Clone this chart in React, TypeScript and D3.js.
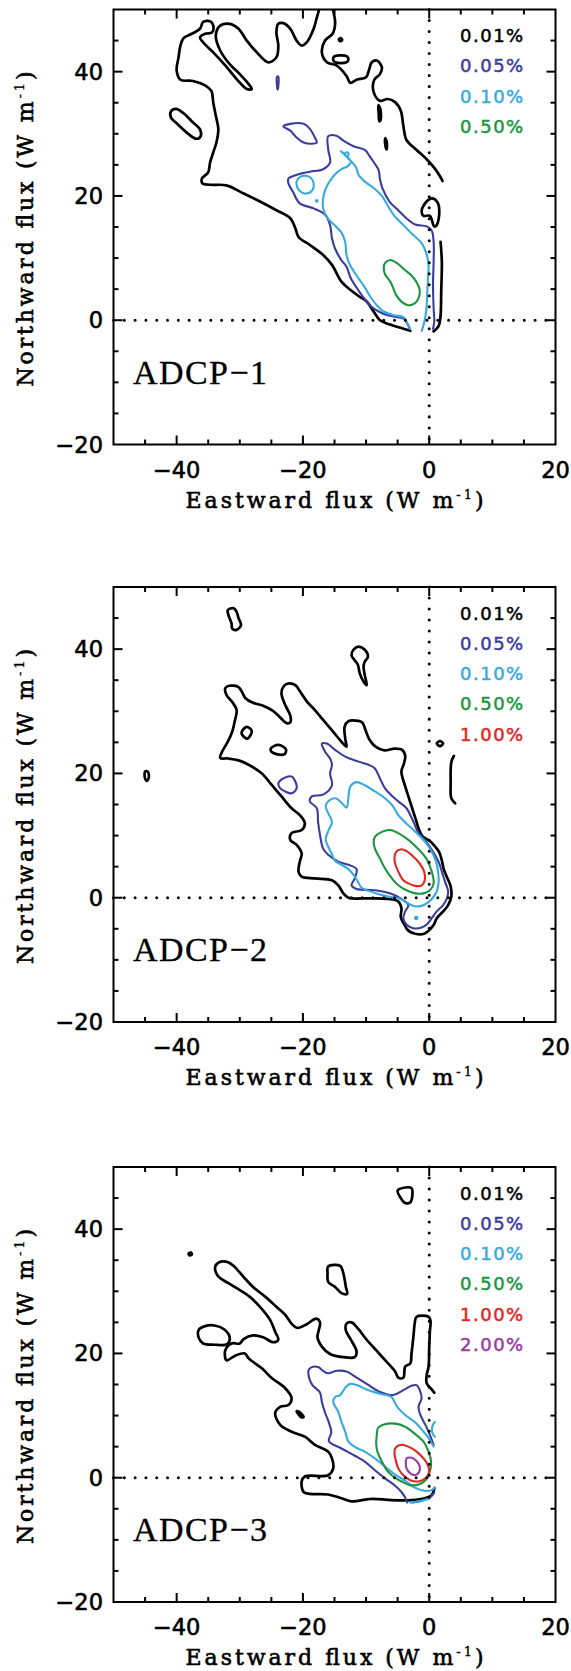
import React from "react";
import * as d3 from "d3";

type Pt = [number, number];

// ---------- axes / labels ----------
const X_DOMAIN: [number, number] = [-50, 20];
const Y_DOMAIN: [number, number] = [-20, 50];
const X_LABELS = [-40, -20, 0, 20];
const Y_LABELS = [-20, 0, 20, 40];
const MINOR_STEP = 5;
const MAJOR_STEP = 20;
const LEVEL_LABELS = ["0.01%", "0.05%", "0.10%", "0.50%", "1.00%", "2.00%"];
const LEVEL_COLORS = ["#000000", "#3b3d9b", "#37abdc", "#1c9540", "#e0261f", "#9a3ca3"];
const PANEL_NAMES = ["ADCP\u22121", "ADCP\u22122", "ADCP\u22123"];
const PANEL_LEVEL_COUNT = [4, 5, 6];
const X_TITLE = "Eastward flux (W m";
const Y_TITLE = "Northward flux (W m";

// ---------- Panel 1 (ADCP-1) ----------
const p1L0a: Pt[] = [[-17.3,50.5],[-17.8,48.7],[-18.3,46.9],[-19.4,44.7],[-20.2,44.2],[-21.0,45.0],[-22.0,46.9],[-23.1,47.8],[-23.9,47.7],[-24.2,46.3],[-23.9,44.2],[-24.2,42.3],[-25.5,41.5],[-27.3,43.1],[-28.9,45.0],[-30.2,46.9],[-31.6,47.7],[-33.1,47.4],[-33.8,45.8],[-33.1,43.4],[-31.6,41.2],[-30.0,39.6],[-28.6,38.0],[-28.1,37.2],[-28.9,37.2],[-30.5,38.8],[-32.3,41.0],[-34.2,43.1],[-35.8,44.7],[-36.3,45.5],[-35.5,46.1],[-34.4,46.3],[-34.2,47.4],[-34.7,48.1],[-35.8,48.0],[-36.3,46.9],[-37.6,46.1],[-38.9,45.4],[-39.4,44.2],[-39.7,42.3],[-40.0,40.2],[-39.4,38.7],[-37.4,38.5],[-35.5,37.8],[-34.5,36.9],[-34.2,35.0],[-33.8,32.9],[-33.4,30.8],[-33.7,28.6],[-34.2,27.0],[-34.7,25.4],[-35.0,23.8],[-36.0,22.8],[-35.9,22.0],[-34.7,21.8],[-32.1,21.7],[-29.4,20.4],[-26.8,19.1],[-24.2,17.7],[-22.0,16.4],[-21.2,14.8],[-20.7,13.4],[-18.9,12.1],[-16.8,10.5],[-15.4,8.9],[-13.9,6.2],[-12.5,4.9],[-11.2,3.9],[-9.9,3.0],[-8.8,1.4],[-7.8,0.0],[-6.2,-0.7],[-4.3,-1.3],[-3.0,-1.7]];
const p1L0b: Pt[] = [[-15.4,50.5],[-14.9,47.9],[-15.3,46.1],[-16.5,45.0],[-17.0,43.1],[-16.2,41.5],[-14.7,41.0],[-13.1,39.3],[-12.5,38.2],[-11.5,38.7],[-10.0,39.1],[-9.5,40.4],[-9.1,41.5],[-8.3,41.8],[-7.5,40.7],[-7.8,39.6],[-8.7,38.7],[-8.8,36.7],[-7.8,35.3],[-6.6,35.6],[-5.4,35.1],[-4.5,33.7],[-4.1,31.3],[-3.6,29.0],[-2.0,27.4],[-0.4,25.9],[0.9,24.4],[1.8,23.0],[2.1,22.4]];
const p1L0c: Pt[] = [[-1.2,17.5],[-0.8,18.6],[0.4,19.6],[1.3,19.0],[1.6,17.5],[1.2,15.3],[0.8,15.1],[0.1,16.8],[-0.9,16.8]];
const p1L0d: Pt[] = [[1.8,12.6],[2.0,9.4],[1.9,4.6],[1.8,0.8],[1.5,-0.9],[0.7,-1.8]];
const p1L0e: Pt[] = [[-40.9,33.6],[-40.1,34.0],[-38.9,33.3],[-37.5,31.9],[-36.3,30.7],[-36.2,29.6],[-36.9,29.2],[-38.3,30.1],[-39.9,31.6],[-40.9,32.6]];
const p1L0f: Pt[] = [[-15.1,42.4],[-13.1,42.5],[-12.8,41.9],[-13.1,41.5],[-14.9,41.5],[-15.2,41.9]];
const p1L0g: Pt[] = [[-14.3,45.2],[-14.0,45.4],[-13.8,45.1],[-14.1,44.9]];
const p1L0h: Pt[] = [[-8.05,34.6],[-7.75,34.0],[-7.7,32.2],[-7.9,32.0],[-8.0,33.2]];
const p1L0i: Pt[] = [[-6.95,29.3],[-6.7,28.5],[-6.75,27.5],[-6.95,28.2]];
const p1L1a: Pt[] = [[-3.1,-1.4],[-3.5,-0.5],[-4.0,0.2],[-5.0,0.5],[-6.6,0.8],[-8.0,1.4],[-9.3,2.3],[-10.3,3.5],[-11.4,5.1],[-12.4,6.7],[-13.1,8.6],[-14.0,9.8],[-14.9,11.5],[-15.4,13.2],[-15.7,15.3],[-16.5,17.0],[-18.3,18.0],[-20.5,18.8],[-21.6,20.7],[-22.3,22.0],[-22.3,22.8],[-22.0,23.0],[-20.7,23.5],[-18.9,23.9],[-16.8,24.3],[-15.7,25.4],[-16.0,27.5],[-16.0,29.6],[-14.7,29.7],[-13.6,28.9],[-12.0,28.0],[-10.2,27.4],[-9.5,26.5],[-8.7,25.3],[-8.0,24.1],[-7.8,22.7],[-7.4,21.2],[-6.3,19.1],[-4.9,17.7],[-3.6,16.4],[-2.2,15.4],[-0.4,15.1],[0.4,14.4],[0.7,12.6],[0.7,9.4],[0.6,5.7],[0.7,1.9],[0.8,-0.2],[0.6,-1.4]];
const p1L1b: Pt[] = [[-23.1,31.2],[-22.0,31.6],[-19.9,31.6],[-18.9,30.8],[-18.1,29.4],[-17.8,28.6],[-18.6,28.4],[-19.9,28.6],[-21.0,29.4],[-22.0,30.5]];
const p1L1c: Pt[] = [[-24.1,39.2],[-23.9,39.2],[-23.9,37.6],[-24.0,37.1],[-24.1,37.6]];
const p1L2a: Pt[] = [[-3.0,-1.4],[-3.6,-0.2],[-4.1,0.5],[-5.6,0.8],[-7.2,1.4],[-8.2,2.3],[-9.4,3.9],[-10.4,5.6],[-11.5,7.2],[-12.5,8.8],[-13.1,10.5],[-13.3,12.6],[-13.9,14.1],[-14.9,15.2],[-16.0,16.3],[-16.8,18.0],[-16.7,20.2],[-16.1,21.8],[-15.3,23.0],[-14.9,23.5],[-13.9,24.3],[-12.9,24.8],[-12.4,25.5],[-13.0,26.3],[-13.8,27.0],[-14.0,27.2],[-13.6,26.9],[-12.8,26.0],[-12.0,25.2],[-11.5,24.4],[-11.2,23.4],[-10.2,22.3],[-8.7,21.2],[-7.5,20.0],[-6.6,18.5],[-5.6,16.9],[-4.1,15.3],[-2.5,13.7],[-1.2,12.4],[-0.4,10.6],[-0.1,8.8],[-0.2,6.7],[-0.3,4.6],[-0.4,2.4],[-0.6,0.6],[-0.9,-0.8],[-1.2,-1.7]];
const p1L2b: Pt[] = [[-21.0,22.3],[-20.4,23.1],[-19.3,23.2],[-18.5,22.6],[-18.3,21.5],[-18.7,20.7],[-19.8,20.4],[-20.7,21.0],[-21.0,21.8]];
const p1L2c: Pt[] = [[-17.9,19.3],[-17.7,19.3],[-17.7,19.1],[-17.9,19.1]];
const p1L2d: Pt[] = [[-13.3,26.9],[-12.9,27.0],[-12.8,26.5],[-13.2,26.4]];
const p1L3a: Pt[] = [[-7.0,9.2],[-6.2,9.7],[-5.1,9.2],[-4.0,8.2],[-2.8,7.2],[-2.0,6.1],[-1.5,4.9],[-1.7,3.5],[-2.3,2.7],[-3.3,2.4],[-4.4,3.0],[-5.2,4.0],[-5.6,4.9],[-6.1,6.1],[-7.0,7.4],[-7.2,8.5]];

// ---------- Panel 2 (ADCP-2) ----------
const p2L0a: Pt[] = [[-32.3,33.7],[-31.7,34.1],[-30.2,33.9],[-29.6,33.0],[-29.1,32.1],[-28.0,31.4],[-26.3,30.9],[-24.8,30.1],[-23.5,28.9],[-22.6,28.1],[-22.0,28.2],[-22.0,29.3],[-22.8,31.0],[-23.4,32.9],[-23.0,34.1],[-22.2,34.5],[-21.2,34.2],[-20.4,33.1],[-19.4,31.6],[-18.1,30.2],[-16.8,28.6],[-15.2,26.7],[-13.9,25.1],[-13.1,24.3],[-13.3,25.6],[-13.4,27.5],[-12.8,28.4],[-11.6,28.5],[-10.6,28.2],[-10.1,27.0],[-9.5,25.5],[-8.5,24.3],[-7.1,23.7],[-5.5,24.0],[-4.3,23.8],[-3.8,22.8],[-4.0,21.6],[-4.4,20.3],[-3.8,17.9],[-3.2,16.0],[-2.7,14.4],[-2.1,12.5],[-1.6,10.9],[-1.0,9.8],[0.0,9.2],[0.8,8.4],[1.6,7.3],[2.0,6.0],[2.3,4.6],[2.9,3.1],[3.4,1.8],[3.5,0.2],[3.0,-1.2],[2.2,-2.2],[1.2,-3.3],[0.7,-4.4],[-0.1,-5.3],[-0.8,-5.8],[-2.2,-5.8],[-3.3,-5.3],[-4.0,-4.2],[-4.5,-3.1],[-4.4,-1.7],[-4.9,-0.6],[-6.5,-0.2],[-9.6,-0.1],[-12.8,0.0],[-13.6,0.7],[-14.4,2.0],[-15.4,2.8],[-18.1,3.1],[-20.2,3.4],[-20.7,4.2],[-20.5,5.8],[-20.2,7.1],[-21.0,8.5],[-22.0,9.3],[-21.8,10.4],[-20.2,10.9],[-19.7,12.0],[-20.5,13.3],[-21.8,14.4],[-23.4,16.3],[-24.9,18.1],[-26.5,20.0],[-28.6,21.4],[-30.2,22.1],[-31.8,22.4],[-33.1,22.5],[-32.8,23.5],[-31.9,25.1],[-31.2,26.7],[-30.8,28.4],[-30.5,30.2],[-31.2,31.5],[-32.1,32.6]];
const p2L0b: Pt[] = [[-31.9,46.3],[-31.0,46.6],[-30.5,46.0],[-30.2,45.0],[-29.8,43.9],[-30.5,43.1],[-31.2,43.3],[-31.3,44.1],[-31.7,45.2],[-31.9,45.9]];
const p2L0c: Pt[] = [[-12.0,39.9],[-11.2,40.4],[-10.2,39.9],[-9.7,38.8],[-10.2,38.0],[-10.4,37.2],[-10.2,35.8],[-9.9,34.2],[-10.3,34.6],[-11.0,36.1],[-11.3,37.5],[-11.8,38.2],[-12.3,39.0]];
const p2L0d: Pt[] = [[-29.7,26.7],[-28.9,27.5],[-28.1,26.8],[-28.8,25.6],[-29.6,26.2]];
const p2L0e: Pt[] = [[-25.1,24.0],[-23.9,24.6],[-22.7,23.9],[-22.9,23.1],[-24.2,23.1],[-25.0,23.5]];
const p2L0f: Pt[] = [[-45.0,20.3],[-44.6,20.3],[-44.4,19.4],[-44.7,18.8],[-45.0,19.2]];
const p2L0g: Pt[] = [[1.2,24.8],[1.7,25.2],[2.2,24.8],[1.7,24.4]];
const p2L0h: Pt[] = [[3.9,22.8],[3.5,21.8],[3.4,18.5],[3.5,16.0],[4.1,15.2]];
const p2L1a: Pt[] = [[-17.0,24.8],[-16.2,24.8],[-14.9,23.8],[-13.3,22.7],[-11.2,21.9],[-9.6,21.4],[-8.6,20.8],[-7.8,19.2],[-7.0,17.6],[-6.0,16.5],[-4.9,15.5],[-3.6,14.4],[-2.5,12.2],[-1.7,10.4],[-0.7,9.3],[0.1,8.2],[0.9,6.9],[1.6,5.5],[2.0,4.2],[2.5,2.6],[3.0,1.0],[2.8,-0.1],[2.2,-1.2],[1.2,-2.2],[0.4,-3.3],[-0.4,-4.3],[-1.2,-4.8],[-2.5,-4.9],[-3.6,-4.3],[-4.1,-3.3],[-3.8,-2.2],[-3.3,-1.2],[-4.4,-0.2],[-5.9,0.6],[-8.6,1.2],[-11.5,1.4],[-12.3,2.0],[-11.8,3.1],[-11.5,4.6],[-12.8,5.3],[-14.4,5.8],[-16.0,6.9],[-16.8,7.9],[-17.3,10.1],[-17.6,12.2],[-17.8,14.4],[-18.9,15.5],[-18.6,16.3],[-16.8,16.6],[-15.4,18.1],[-15.7,20.0],[-15.4,21.4],[-15.7,22.4],[-16.5,23.5]];
const p2L1b: Pt[] = [[-23.9,18.4],[-23.1,19.2],[-21.8,19.5],[-21.2,18.7],[-21.0,17.6],[-21.8,16.8],[-22.8,17.1],[-23.6,17.6]];
const p2L2a: Pt[] = [[-12.5,17.9],[-11.6,18.6],[-10.2,18.1],[-8.6,17.1],[-7.0,16.0],[-5.8,14.8],[-4.9,13.3],[-3.8,12.1],[-2.7,11.1],[-1.6,10.0],[-0.6,8.9],[0.4,7.4],[1.1,5.8],[1.4,4.2],[1.5,2.6],[1.2,1.0],[0.4,-0.2],[-0.7,-1.1],[-1.7,-1.4],[-2.8,-1.2],[-3.8,-0.6],[-4.9,-0.1],[-6.5,0.2],[-8.1,0.6],[-9.6,1.1],[-10.7,1.6],[-11.3,2.6],[-12.0,3.7],[-12.8,4.6],[-13.9,5.3],[-14.9,5.9],[-15.4,7.0],[-16.0,8.2],[-16.4,9.4],[-16.0,10.7],[-15.4,12.2],[-16.0,13.6],[-16.4,14.7],[-15.9,15.6],[-14.8,16.0],[-13.8,15.2],[-13.1,14.5],[-12.8,16.0],[-12.7,17.1]];
const p2L2b: Pt[] = [[-2.2,-3.1],[-1.9,-3.1],[-1.9,-3.4],[-2.2,-3.4]];
const p2L3a: Pt[] = [[-8.6,9.8],[-7.5,10.6],[-6.2,10.9],[-4.9,10.4],[-3.3,9.3],[-1.7,7.8],[-0.4,6.2],[0.4,4.2],[0.7,2.3],[0.1,1.2],[-0.9,0.7],[-2.2,0.7],[-3.6,1.2],[-4.9,2.0],[-5.9,3.1],[-7.0,4.7],[-7.8,6.3],[-8.6,7.9],[-8.8,9.0]];
const p2L4a: Pt[] = [[-5.2,7.4],[-4.4,7.8],[-3.6,7.5],[-2.5,6.6],[-1.5,5.5],[-0.8,4.2],[-0.7,2.8],[-1.2,2.0],[-2.2,1.9],[-3.3,2.3],[-4.1,2.8],[-4.9,4.2],[-5.4,5.5],[-5.5,6.6]];

// ---------- Panel 3 (ADCP-3) ----------
const p3L0a: Pt[] = [[0.8,-1.7],[0.4,-2.8],[-0.7,-3.3],[-2.8,-3.6],[-6.0,-3.6],[-9.1,-3.4],[-12.3,-3.8],[-13.9,-3.3],[-16.0,-2.7],[-18.9,-2.6],[-19.9,-2.3],[-20.2,-0.6],[-19.7,0.2],[-16.0,0.4],[-15.2,1.5],[-15.4,3.1],[-16.0,4.2],[-18.1,5.3],[-19.7,6.6],[-21.8,7.4],[-23.6,8.5],[-24.4,10.4],[-23.6,11.4],[-22.3,11.7],[-21.8,12.8],[-22.8,14.4],[-24.9,16.0],[-26.5,17.6],[-28.6,19.2],[-29.2,20.0],[-30.8,19.6],[-32.1,18.9],[-32.3,20.5],[-31.3,21.6],[-30.0,21.6],[-29.4,22.3],[-27.9,22.9],[-26.3,22.6],[-24.7,21.8],[-23.9,22.2],[-24.4,23.5],[-25.2,25.4],[-26.8,27.5],[-28.4,29.1],[-30.0,30.2],[-31.8,31.3],[-33.5,32.5],[-33.9,33.9],[-33.4,34.6],[-31.9,34.7],[-30.8,33.9],[-29.4,32.3],[-27.9,30.7],[-25.7,28.9],[-24.2,27.5],[-22.8,26.2],[-21.8,24.8],[-20.9,24.1],[-19.4,24.7],[-17.9,25.6],[-17.3,25.0],[-17.5,23.7],[-17.7,22.6],[-17.0,21.1],[-15.7,19.9],[-13.6,19.4],[-11.8,19.4],[-11.5,20.3],[-12.4,22.2],[-13.2,23.7],[-13.1,24.8],[-12.3,25.0],[-11.2,23.9],[-9.9,22.2],[-8.3,20.4],[-6.7,18.6],[-5.4,17.1],[-4.9,16.1],[-4.1,16.1],[-3.8,17.9],[-3.0,18.4],[-2.8,20.0],[-2.5,22.7],[-2.3,24.8],[-2.0,25.9],[-0.1,25.9],[0.2,25.3],[0.1,23.5],[0.0,21.1],[-0.1,17.9],[-0.4,16.5],[-0.4,15.2],[0.4,14.2],[0.8,13.7]];
const p3L0b: Pt[] = [[-16.0,34.0],[-14.1,34.1],[-13.6,32.9],[-13.2,30.7],[-13.0,29.6],[-13.9,29.7],[-14.9,30.7],[-16.0,31.5],[-16.1,32.9]];
const p3L0c: Pt[] = [[-5.0,46.2],[-3.8,46.7],[-2.8,46.6],[-2.7,45.2],[-3.0,44.3],[-3.8,44.2],[-4.5,45.0]];
const p3L0d: Pt[] = [[-38.1,36.1],[-37.7,36.2],[-37.6,35.9],[-38.0,35.8]];
const p3L0e: Pt[] = [[-36.5,23.8],[-35.5,24.4],[-34.0,24.5],[-32.5,23.9],[-31.6,22.6],[-32.0,21.5],[-34.0,21.4],[-35.8,21.6],[-36.5,22.5]];
const p3L0f: Pt[] = [[-21.0,10.7],[-20.6,10.6],[-19.9,9.8],[-20.2,9.7]];
const p3L1a: Pt[] = [[0.7,5.3],[0.1,6.9],[-0.6,8.5],[-1.4,10.1],[-1.7,11.4],[-1.2,12.8],[-1.5,14.1],[-2.0,14.9],[-2.8,14.8],[-4.1,14.1],[-5.7,13.3],[-7.8,13.8],[-9.9,15.1],[-11.8,16.3],[-13.1,17.1],[-14.7,17.2],[-16.0,16.8],[-16.8,17.2],[-17.6,17.8],[-18.6,17.8],[-19.1,17.3],[-19.0,16.0],[-18.5,14.9],[-17.3,13.7],[-17.0,12.2],[-16.5,10.5],[-15.9,8.9],[-15.5,7.3],[-15.9,5.9],[-13.9,4.7],[-11.7,3.5],[-10.2,2.6],[-8.6,1.2],[-7.0,-0.1],[-5.4,-1.3],[-4.4,-2.3],[-3.7,-3.4],[-3.5,-4.0]];
const p3L1b: Pt[] = [[-2.6,-4.0],[-1.2,-3.7],[0.2,-3.1],[0.8,-2.4]];
const p3L2a: Pt[] = [[0.7,5.0],[0.1,6.1],[-0.9,7.4],[-2.2,8.9],[-3.8,10.1],[-4.9,11.2],[-5.4,12.0],[-6.0,13.0],[-7.8,13.5],[-9.9,14.2],[-11.5,14.9],[-12.5,15.1],[-13.2,14.6],[-14.1,13.3],[-14.9,13.0],[-15.2,12.2],[-14.4,10.6],[-13.9,9.0],[-13.3,7.4],[-12.8,5.8],[-11.7,4.9],[-10.2,4.2],[-8.6,3.1],[-7.0,1.8],[-5.4,0.5],[-3.8,-0.5],[-2.3,-1.6],[-0.7,-2.1],[0.4,-2.0],[0.9,-1.5]];
const p3L2b: Pt[] = [[0.9,9.0],[0.5,8.3],[0.5,7.2],[0.9,6.6]];
const p3L2c: Pt[] = [[-3.0,-4.0],[-1.5,-3.8],[0.0,-3.4]];
const p3L3a: Pt[] = [[-8.3,6.9],[-8.1,8.0],[-7.0,8.6],[-5.4,8.7],[-3.8,8.2],[-2.3,7.1],[-0.9,5.8],[-0.1,4.2],[0.3,2.6],[0.1,1.0],[-0.6,-0.4],[-1.7,-1.1],[-3.0,-1.2],[-4.4,-0.6],[-5.7,0.2],[-6.7,1.2],[-7.5,2.6],[-8.2,4.2],[-8.4,5.5]];
const p3L4a: Pt[] = [[-5.4,4.7],[-4.4,5.3],[-3.3,5.0],[-2.0,4.2],[-0.9,3.1],[-0.2,2.0],[0.0,1.0],[-0.6,-0.1],[-1.7,-0.6],[-3.0,-0.4],[-4.1,0.4],[-4.9,1.5],[-5.3,2.8],[-5.5,3.9]];
const p3L5a: Pt[] = [[-3.6,3.1],[-2.8,3.2],[-2.0,2.7],[-1.5,1.8],[-1.6,0.9],[-2.3,0.4],[-3.0,0.7],[-3.6,1.5],[-3.7,2.3]];

interface Contour { level: number; closed: boolean; pts: Pt[]; }

const PANEL_CONTOURS: Contour[][] = [
  [
    { level: 0, closed: false, pts: p1L0a }, { level: 0, closed: false, pts: p1L0b },
    { level: 0, closed: true, pts: p1L0c }, { level: 0, closed: false, pts: p1L0d },
    { level: 0, closed: true, pts: p1L0e }, { level: 0, closed: true, pts: p1L0f },
    { level: 0, closed: true, pts: p1L0g }, { level: 0, closed: true, pts: p1L0h },
    { level: 0, closed: true, pts: p1L0i },
    { level: 1, closed: false, pts: p1L1a }, { level: 1, closed: true, pts: p1L1b },
    { level: 1, closed: true, pts: p1L1c },
    { level: 2, closed: false, pts: p1L2a }, { level: 2, closed: true, pts: p1L2b },
    { level: 2, closed: true, pts: p1L2c }, { level: 2, closed: true, pts: p1L2d },
    { level: 3, closed: true, pts: p1L3a },
  ],
  [
    { level: 0, closed: true, pts: p2L0a }, { level: 0, closed: true, pts: p2L0b },
    { level: 0, closed: true, pts: p2L0c }, { level: 0, closed: true, pts: p2L0d },
    { level: 0, closed: true, pts: p2L0e }, { level: 0, closed: true, pts: p2L0f },
    { level: 0, closed: true, pts: p2L0g }, { level: 0, closed: false, pts: p2L0h },
    { level: 1, closed: true, pts: p2L1a }, { level: 1, closed: true, pts: p2L1b },
    { level: 2, closed: true, pts: p2L2a }, { level: 2, closed: true, pts: p2L2b },
    { level: 3, closed: true, pts: p2L3a },
    { level: 4, closed: true, pts: p2L4a },
  ],
  [
    { level: 0, closed: false, pts: p3L0a }, { level: 0, closed: true, pts: p3L0b },
    { level: 0, closed: true, pts: p3L0c }, { level: 0, closed: true, pts: p3L0d },
    { level: 0, closed: true, pts: p3L0e }, { level: 0, closed: true, pts: p3L0f },
    { level: 1, closed: false, pts: p3L1a }, { level: 1, closed: false, pts: p3L1b },
    { level: 2, closed: false, pts: p3L2a }, { level: 2, closed: false, pts: p3L2b },
    { level: 2, closed: false, pts: p3L2c },
    { level: 3, closed: true, pts: p3L3a },
    { level: 4, closed: true, pts: p3L4a },
    { level: 5, closed: true, pts: p3L5a },
  ],
];

// ---------- layout ----------
const W = 571;
const H = 1671;
const PLOT_LEFT = 113.5;
const PLOT_W = 442;
const PLOT_H = 435;
const PANEL_TOPS = [9.5, 587, 1167];

const fmt = (v: number) => (v < 0 ? "\u2212" + Math.abs(v) : String(v));

function Panel({ index }: { index: number }) {
  const top = PANEL_TOPS[index];
  const x = d3.scaleLinear().domain(X_DOMAIN).range([PLOT_LEFT, PLOT_LEFT + PLOT_W]);
  const y = d3.scaleLinear().domain(Y_DOMAIN).range([PLOT_H, 0]);
  const openLine = d3.line<Pt>().x((d) => x(d[0])).y((d) => y(d[1])).curve(d3.curveCatmullRom.alpha(0.5));
  const closedLine = d3.line<Pt>().x((d) => x(d[0])).y((d) => y(d[1])).curve(d3.curveCatmullRomClosed.alpha(0.5));
  const xTicks = d3.range(X_DOMAIN[0] + MINOR_STEP, X_DOMAIN[1], MINOR_STEP);
  const yTicks = d3.range(Y_DOMAIN[0] + MINOR_STEP, Y_DOMAIN[1], MINOR_STEP);
  const x0 = PLOT_LEFT;
  const x1 = PLOT_LEFT + PLOT_W;
  const isMajor = (v: number) => Math.abs(v % MAJOR_STEP) < 1e-9;
  const len = (v: number) => (isMajor(v) ? 9 : 5);
  const clipId = `clip-panel-${index}`;
  const sans = "'DejaVu Sans', 'Noto Sans', sans-serif";
  const serif = "'DejaVu Serif', 'Liberation Serif', serif";
  return (
    <g transform={`translate(0,${top})`}>
      <defs>
        <clipPath id={clipId}>
          <rect x={x0} y={0} width={PLOT_W} height={PLOT_H} />
        </clipPath>
      </defs>
      <g clipPath={`url(#${clipId})`}>
        {PANEL_CONTOURS[index].map((c, j) => (
          <path
            key={j}
            d={(c.closed ? closedLine : openLine)(c.pts) || ""}
            fill="none"
            stroke={LEVEL_COLORS[c.level]}
            strokeWidth={c.level === 0 ? 2.7 : 2.1}
            strokeLinejoin="round"
            strokeLinecap="round"
          />
        ))}
      </g>
      {/* zero reference lines */}
      <line x1={x(0)} x2={x(0)} y1={y(Y_DOMAIN[1])} y2={y(Y_DOMAIN[0])} stroke="#000" strokeWidth={3} strokeDasharray="0.01 11" strokeLinecap="round" />
      <line x1={x0} x2={x1} y1={y(0)} y2={y(0)} stroke="#000" strokeWidth={3} strokeDasharray="0.01 10.8" strokeLinecap="round" />
      {/* frame */}
      <rect x={x0} y={0} width={PLOT_W} height={PLOT_H} fill="none" stroke="#000" strokeWidth={2} />
      {xTicks.map((v) => (
        <g key={`xt${v}`}>
          <line x1={x(v)} x2={x(v)} y1={PLOT_H} y2={PLOT_H - len(v)} stroke="#000" strokeWidth={2} />
          <line x1={x(v)} x2={x(v)} y1={0} y2={len(v)} stroke="#000" strokeWidth={2} />
        </g>
      ))}
      {yTicks.map((v) => (
        <g key={`yt${v}`}>
          <line x1={x0} x2={x0 + len(v)} y1={y(v)} y2={y(v)} stroke="#000" strokeWidth={2} />
          <line x1={x1} x2={x1 - len(v)} y1={y(v)} y2={y(v)} stroke="#000" strokeWidth={2} />
        </g>
      ))}
      {X_LABELS.map((v) => (
        <text key={`xl${v}`} x={x(v)} y={PLOT_H + 33} textAnchor="middle" fontFamily={sans} fontSize={22.5} fill="#000" stroke="#000" strokeWidth={0.6}>
          {fmt(v)}
        </text>
      ))}
      {Y_LABELS.map((v) => (
        <text key={`yl${v}`} x={103} y={y(v) + 8} textAnchor="end" fontFamily={sans} fontSize={22.5} fill="#000" stroke="#000" strokeWidth={0.6}>
          {fmt(v)}
        </text>
      ))}
      <text x={(x0 + x1) / 2} y={PLOT_H + 63} textAnchor="middle" fontFamily={serif} fontSize={22} fill="#000" stroke="#000" strokeWidth={0.6} textLength={298} lengthAdjust="spacing">
        {X_TITLE}
        <tspan dy={-9} fontSize={13} strokeWidth={0.3}>-1</tspan>
        <tspan dy={9}>)</tspan>
      </text>
      <text transform={`translate(32.5,${PLOT_H / 2 + 2}) rotate(-90)`} textAnchor="middle" fontFamily={serif} fontSize={22} fill="#000" stroke="#000" strokeWidth={0.6} textLength={315} lengthAdjust="spacing">
        {Y_TITLE}
        <tspan dy={-9} fontSize={13} strokeWidth={0.3}>-1</tspan>
        <tspan dy={9}>)</tspan>
      </text>
      <text x={133} y={374} fontFamily="'Liberation Serif', 'DejaVu Serif', serif" fontSize={34} fill="#000" stroke="#000" strokeWidth={0.3} textLength={134} lengthAdjust="spacing">
        {PANEL_NAMES[index]}
      </text>
      {LEVEL_LABELS.slice(0, PANEL_LEVEL_COUNT[index]).map((lab, i) => (
        <text key={lab} x={460} y={32.5 + i * 30.3} fontFamily={sans} fontSize={18} fill={LEVEL_COLORS[i]} stroke={LEVEL_COLORS[i]} strokeWidth={0.5} letterSpacing={1.5}>
          {lab}
        </text>
      ))}
    </g>
  );
}

export default function App() {
  return (
    <svg width={W} height={H} viewBox={`0 0 ${W} ${H}`} style={{ position: "absolute", left: 0, top: 0, background: "#fff" }}>
      <rect x={0} y={0} width={W} height={H} fill="#fff" />
      {PANEL_TOPS.map((_, i) => (
        <Panel key={i} index={i} />
      ))}
    </svg>
  );
}
